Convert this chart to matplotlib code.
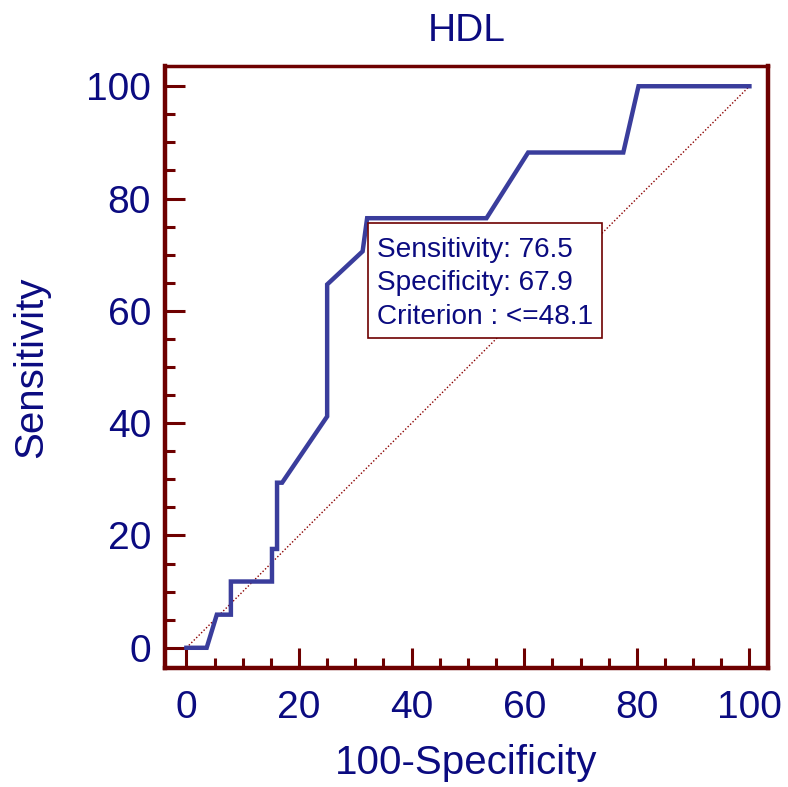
import matplotlib
matplotlib.use("Agg")
import matplotlib.pyplot as plt
from matplotlib.ticker import MultipleLocator
from matplotlib.patches import Rectangle

# ROC curve points (100-Specificity, Sensitivity)
fpr = [0, 3.6, 5.4, 7.9, 7.9, 15.2, 15.2, 16.1, 16.1, 17.0, 25.0, 25.0,
       31.3, 32.1, 53.3, 60.7, 77.6, 80.3, 100]
tpr = [0, 0, 5.9, 5.9, 11.8, 11.8, 17.6, 17.6, 29.4, 29.4, 41.2, 64.7,
       70.6, 76.5, 76.5, 88.2, 88.2, 100, 100]
diag = [0, 100]
xticks = [0, 20, 40, 60, 80, 100]
yticks = [0, 20, 40, 60, 80, 100]
title = "HDL"
info = "Sensitivity: 76.5\nSpecificity: 67.9\nCriterion : <=48.1"

navy = "#0b0b80"
maroon = "#6e0000"
curve = "#3a3d9c"

plt.rcParams['font.family'] = ['Liberation Sans', 'DejaVu Sans']

fig = plt.figure(figsize=(7.88, 7.87), dpi=100)
ax = fig.add_axes([0.2094, 0.1512, 0.7652, 0.7649])

ax.plot(diag, diag, color="#8b0000", lw=1.0, ls=(0, (1, 1.5)))
ax.plot(fpr, tpr, color=curve, lw=3.2, solid_joinstyle='miter')

ax.set_xlim(-3.8, 103.3)
ax.set_ylim(-3.6, 103.6)
ax.set_xticks(xticks)
ax.set_yticks(yticks)
ax.xaxis.set_minor_locator(MultipleLocator(5))
ax.yaxis.set_minor_locator(MultipleLocator(5))

ax.tick_params(which='major', direction='in', length=14.5, width=2.2,
               color=maroon, labelcolor=navy, labelsize=28)
ax.tick_params(axis='x', which='major', pad=16)
ax.tick_params(axis='y', which='major', pad=10)
ax.tick_params(which='minor', direction='in', length=7, width=2.2, color=maroon)
ax.tick_params(top=False, right=False, which='both')

for side in ['left', 'right', 'bottom', 'top']:
    ax.spines[side].set_color(maroon)
    ax.spines[side].set_linewidth(3.2)
ax.spines['top'].set_linewidth(2.5)

ax.set_title(title, color=navy, fontsize=28, pad=18)
ax.set_xlabel("100-Specificity", color=navy, fontsize=29, labelpad=13)
ax.set_ylabel("Sensitivity", color=navy, fontsize=29, labelpad=26)

# info box anchored at the chosen cut-off point
ax.add_patch(Rectangle((32.3, 55.2), 41.5, 20.4, fc='white', ec=maroon,
                       lw=1.2, zorder=4))
ax.text(33.9, 64.9, info, color=navy, fontsize=20.2, ha='left', va='center',
        linespacing=1.37, zorder=5)

fig.savefig("out.png", dpi=100)
